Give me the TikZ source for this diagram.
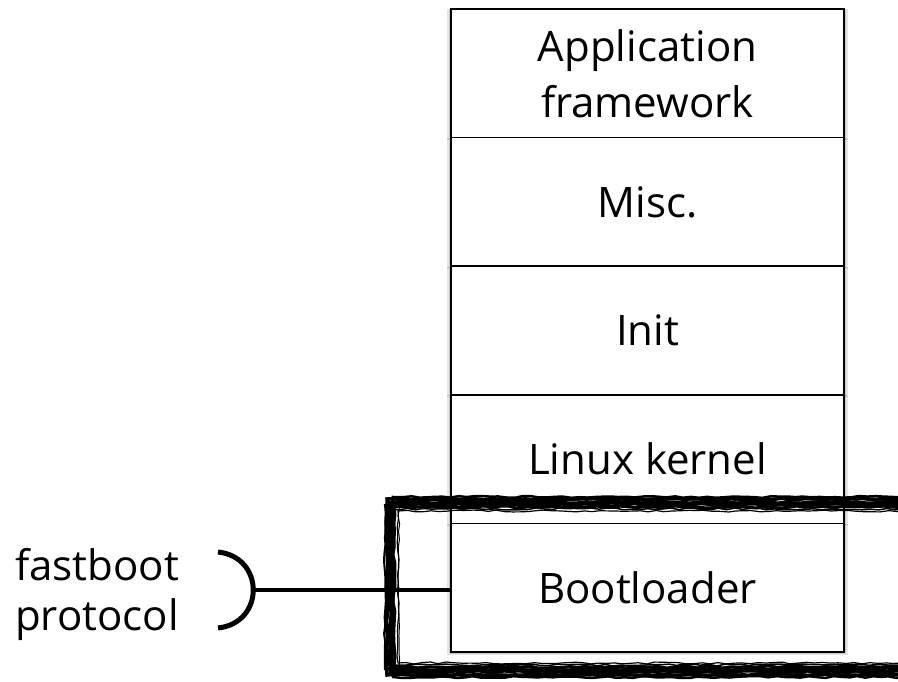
\documentclass[tikz,border=0pt]{standalone}
\usepackage{fontspec}
\setmainfont{Open Sans}
\usetikzlibrary{positioning}
\usetikzlibrary{shadows}
\usetikzlibrary{decorations.pathmorphing}

\begin{document}
\begin{tikzpicture}[x=1pt,y=-1pt,
  layer/.style={draw,line width=1.8pt,fill=white,minimum width=393pt,minimum height=128.6pt,
    outer sep=0pt,inner sep=0pt,align=center,font=\fontsize{42}{56}\selectfont,
    general shadow={fill=black,opacity=0.10,shadow scale=1.018,shadow yshift=-1.5pt},
    general shadow={fill=black,opacity=0.12,shadow scale=1.008,shadow yshift=-1pt}},
  brush/.style={line width=#1,line join=miter,decorate,
    decoration={random steps,segment length=8pt,amplitude=1pt}}]
  \useasboundingbox (0,0) rectangle (898,682);
  \pgfmathsetseed{7}

  % the layer stack
  \node[layer] (app) at (647.5,73.3) {Application\\framework};
  \node[layer,below=0pt of app] (misc) {Misc.};
  \node[layer,below=0pt of misc] (init) {Init};
  \node[layer,below=0pt of init] (kernel) {Linux kernel};
  \node[layer,below=0pt of kernel] (boot) {Bootloader};

  % fastboot
  \node[align=center,font=\fontsize{42}{50}\selectfont] (proto) at (97,594) {fastboot\\protocol};
  \coordinate (brace-top) at (218,552);
  \coordinate (brace-bot) at (218,628);
  \coordinate (brace-mid) at (253,590);
  \draw[line width=5pt] (brace-top) .. controls (265,557) and (265,623) .. (brace-bot);
  \draw[line width=4pt] (brace-mid) -- (boot.west |- brace-mid);

  % rough frame round the bootloader
  \coordinate (frame-tr) at (905,503);
  \coordinate (frame-tl) at (391,503);
  \coordinate (frame-bl) at (391,671);
  \coordinate (frame-br) at (905,671);
  \foreach \w/\dx/\dy in {5pt/0/0,3.5pt/-4/-4,3pt/3/4,2pt/-6/2,2.5pt/2/-6,1.2pt/7/8,1.5pt/-2/6,1pt/8/-3}
    \draw[brush=\w] ([shift={(\dx,\dy)}]frame-tr) -- ([shift={(\dx,\dy)}]frame-tl)
      -- ([shift={(\dx,-\dy)}]frame-bl) -- ([shift={(\dx,-\dy)}]frame-br);
\end{tikzpicture}
\end{document}
